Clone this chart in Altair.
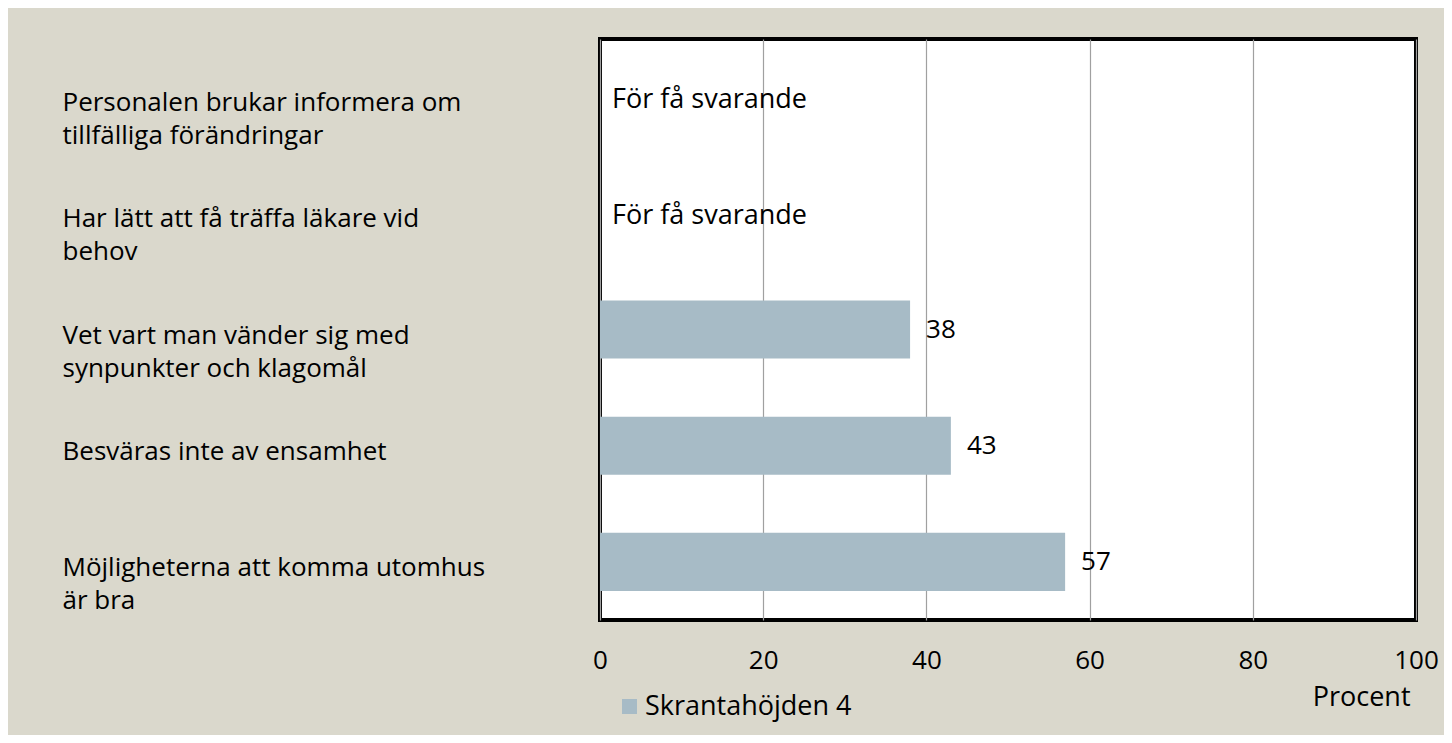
import altair as alt
import pandas as pd

# ---- data ----
categories = [
    "Personalen brukar informera om|tillfälliga förändringar",
    "Har lätt att få träffa läkare vid|behov",
    "Vet vart man vänder sig med|synpunkter och klagomål",
    "Besväras inte av ensamhet",
    "Möjligheterna att komma utomhus|är bra",
]
values = [None, None, 38, 43, 57]
series_name = "Skrantahöjden 4"
too_few_text = "För få svarande"
x_ticks = [0, 20, 40, 60, 80, 100]
x_title = "Procent"

FONT = "Open Sans"
BAR_COLOR = "#A7BBC6"
BG = "#DAD8CC"

df = pd.DataFrame({
    "kategori": categories,
    "varde": [float("nan") if v is None else v for v in values],
    "serie": series_name,
    "etikett": [too_few_text if v is None else str(v) for v in values],
    "saknas": [v is None for v in values],
})

y_enc = alt.Y(
    "kategori:N",
    sort=categories,
    scale=alt.Scale(paddingInner=0.5, paddingOuter=0.25),
    axis=alt.Axis(
        title=None,
        labelExpr="split(datum.label, '|')",
        labelAlign="left",
        labelBaseline="top",
        labelPadding=538,
        labelOffset=-7,
        tickSize=0,
        ticks=False,
        domain=False,
        grid=False,
        labelLimit=800,
        labelFontSize=26,
        labelLineHeight=33,
        labelFont=FONT,
        labelColor="black",
    ),
)

x_axis = alt.Axis(
    values=x_ticks,
    title=x_title,
    titleX=810,
    titleY=77,
    titleAlign="right",
    titleBaseline="middle",
    titleFontSize=27,
    titleFontWeight="normal",
    titleFont=FONT,
    titleColor="black",
    labelFontSize=26,
    labelPadding=27,
    labelFont=FONT,
    labelColor="black",
    labelFlush=False,
    tickSize=0,
    ticks=False,
    domain=False,
    grid=True,
    gridColor="#A0A0A0",
    gridWidth=1.2,
)
x_scale = alt.Scale(domain=[0, 100], nice=False, zero=True)

bars = alt.Chart(df).mark_bar(color=BAR_COLOR).encode(
    x=alt.X("varde:Q", scale=x_scale, axis=x_axis),
    y=y_enc,
    color=alt.Color(
        "serie:N",
        scale=alt.Scale(range=[BAR_COLOR]),
        legend=alt.Legend(
            title=None,
            orient="none",
            legendX=16,
            legendY=654,
            symbolType="square",
            symbolSize=225,
            symbolStrokeWidth=0,
            labelFontSize=27,
            labelFont=FONT,
            labelColor="black",
            labelOffset=2,
            labelLimit=600,
            padding=0,
        ),
    ),
)

value_labels = alt.Chart(df).transform_filter("!datum.saknas").mark_text(
    align="left", baseline="middle", dx=16, fontSize=26, font=FONT, color="black"
).encode(
    x=alt.X("varde:Q", scale=x_scale, axis=x_axis),
    y=y_enc,
    text="etikett:N",
)

too_few_labels = alt.Chart(df).transform_filter("datum.saknas").mark_text(
    align="left", baseline="middle", dx=12, dy=3, fontSize=27, font=FONT, color="black"
).encode(
    x=alt.datum(0),
    y=y_enc,
    text="etikett:N",
)

chart = alt.layer(bars, value_labels, too_few_labels).properties(
    width=816,
    height=581,
    autosize=alt.AutoSizeParams(type="none"),
    padding={"left": 592, "top": 31, "right": 28, "bottom": 115},
    background=BG,
).configure_view(stroke="black", strokeWidth=4, fill="white")

chart.save("out.html", embed_options={"renderer": "svg", "actions": False})
